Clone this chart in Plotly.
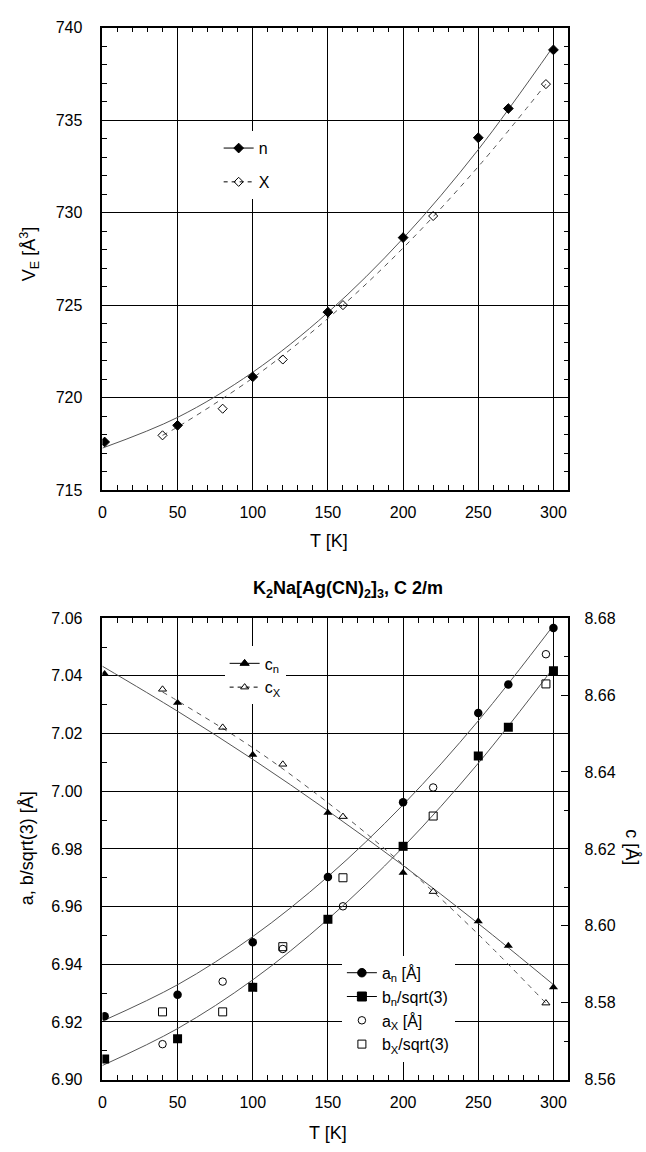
import plotly.graph_objects as go

# ---------------- top panel: cell volume V_E vs T ----------------
T_vol_n = [1.5, 50, 100, 150, 200, 250, 270, 300]
V_n = [717.6, 718.5, 721.12, 724.62, 728.65, 734.05, 735.63, 738.8]
T_vol_x = [40, 80, 120, 160, 220, 295]
V_x = [717.96, 719.4, 722.06, 725.0, 729.82, 736.95]

# smooth fit curves through the volume data
T_vfit_n = [0, 50, 100, 150, 200, 250, 300]
V_fit_n = [717.27, 718.93, 721.37, 724.6, 728.61, 733.41, 739.0]
T_vfit_x = [40, 50, 100, 150, 200, 250, 295]
V_fit_x = [717.96, 718.41, 721.06, 724.28, 728.09, 732.49, 736.95]

# ---------------- bottom panel: lattice parameters ----------------
T_n = [1.5, 50, 100, 150, 200, 250, 270, 300]
a_n = [6.922, 6.9294, 6.9476, 6.9703, 6.9962, 7.0271, 7.037, 7.0566]
b_n = [6.9072, 6.9142, 6.932, 6.9556, 6.9809, 7.0122, 7.0222, 7.0418]
c_n = [8.6655, 8.658, 8.6445, 8.6294, 8.6138, 8.6012, 8.5948, 8.584]

T_x = [40, 80, 120, 160, 220, 295]
a_x = [6.9123, 6.934, 6.9453, 6.9601, 7.0013, 7.0475]
b_x = [6.9235, 6.9235, 6.9461, 6.970, 6.9914, 7.0372]
c_x = [8.6615, 8.6516, 8.642, 8.6284, 8.6089, 8.5799]

T_fit_n = [0, 50, 100, 150, 200, 250, 300]
a_fit_n = [6.9203, 6.9329, 6.9496, 6.9704, 6.9953, 7.0244, 7.0575]
b_fit_n = [6.9049, 6.9177, 6.9346, 6.9556, 6.9806, 7.0097, 7.0428]
c_fit_n = [8.6675, 8.6558, 8.6433, 8.6299, 8.6157, 8.6006, 8.5847]
T_fit_x = [40, 50, 100, 150, 200, 250, 295]
c_fit_x = [8.6608, 8.6585, 8.6463, 8.632, 8.6159, 8.5978, 8.5799]

x_ticks = [0, 50, 100, 150, 200, 250, 300]

W, H = 646, 1152
FONT = "Liberation Sans, Arial, Helvetica, sans-serif"
FIT = "#555555"


def px(x):
    return x / W


def py(y):
    return 1 - y / H


fig = go.Figure()


def legend_entry(name, legend, group, axes, symbol, size, dash=None, with_line=True):
    line = dict(color="black", width=1)
    if dash:
        line["dash"] = dash
    marker = dict(symbol=symbol, size=size, color="black", line=dict(color="black", width=1))
    return go.Scatter(x=[None], y=[None], mode="lines+markers" if with_line else "markers", name=name,
                      legend=legend, legendgroup=group, line=line, marker=marker,
                      xaxis=axes[0], yaxis=axes[1], hoverinfo="skip")


# ---- top panel traces ----
fig.add_trace(go.Scatter(x=T_vfit_n, y=V_fit_n, mode="lines", line=dict(color=FIT, width=1, shape="spline"),
                         xaxis="x", yaxis="y", showlegend=False, hoverinfo="skip"))
fig.add_trace(go.Scatter(x=T_vfit_x, y=V_fit_x, mode="lines",
                         line=dict(color=FIT, width=1, dash="5px,5px", shape="spline"),
                         xaxis="x", yaxis="y", showlegend=False, hoverinfo="skip"))
fig.add_trace(go.Scatter(x=T_vol_n, y=V_n, mode="markers", xaxis="x", yaxis="y", showlegend=False,
                         marker=dict(symbol="diamond", size=7.5, color="black", line=dict(color="black", width=1))))
fig.add_trace(go.Scatter(x=T_vol_x, y=V_x, mode="markers", xaxis="x", yaxis="y", showlegend=False,
                         marker=dict(symbol="diamond-open", size=7, color="black", line=dict(width=1))))
fig.add_trace(legend_entry("n", "legend", "g1", ("x", "y"), "diamond", 7.5))
fig.add_trace(legend_entry("X", "legend", "g2", ("x", "y"), "diamond-open", 7, dash="4px,4px"))

# ---- bottom panel traces ----
fig.add_trace(go.Scatter(x=T_fit_n, y=a_fit_n, mode="lines", line=dict(color=FIT, width=1, shape="spline"),
                         xaxis="x2", yaxis="y2", showlegend=False, hoverinfo="skip"))
fig.add_trace(go.Scatter(x=T_fit_n, y=b_fit_n, mode="lines", line=dict(color=FIT, width=1, shape="spline"),
                         xaxis="x2", yaxis="y2", showlegend=False, hoverinfo="skip"))
fig.add_trace(go.Scatter(x=T_fit_n, y=c_fit_n, mode="lines", line=dict(color=FIT, width=1, shape="spline"),
                         xaxis="x2", yaxis="y3", showlegend=False, hoverinfo="skip"))
fig.add_trace(go.Scatter(x=T_fit_x, y=c_fit_x, mode="lines",
                         line=dict(color=FIT, width=1, dash="5px,5px", shape="spline"),
                         xaxis="x2", yaxis="y3", showlegend=False, hoverinfo="skip"))

fig.add_trace(go.Scatter(x=T_n, y=a_n, mode="markers", xaxis="x2", yaxis="y2", showlegend=False,
                         marker=dict(symbol="circle", size=8.5, color="black")))
fig.add_trace(go.Scatter(x=T_n, y=b_n, mode="markers", xaxis="x2", yaxis="y2", showlegend=False,
                         marker=dict(symbol="square", size=9, color="black")))
fig.add_trace(go.Scatter(x=T_x, y=a_x, mode="markers", xaxis="x2", yaxis="y2", showlegend=False,
                         marker=dict(symbol="circle-open", size=7.5, color="black", line=dict(width=1))))
fig.add_trace(go.Scatter(x=T_x, y=b_x, mode="markers", xaxis="x2", yaxis="y2", showlegend=False,
                         marker=dict(symbol="square-open", size=8, color="black", line=dict(width=1))))
fig.add_trace(go.Scatter(x=T_n, y=c_n, mode="markers", xaxis="x2", yaxis="y3", showlegend=False,
                         marker=dict(symbol="triangle-up", size=8, color="black")))
fig.add_trace(go.Scatter(x=T_x, y=c_x, mode="markers", xaxis="x2", yaxis="y3", showlegend=False,
                         marker=dict(symbol="triangle-up-open", size=7, color="black", line=dict(width=1))))

# lattice-parameter legend
fig.add_trace(legend_entry("a<sub>n</sub> [Å]", "legend3", "a1", ("x2", "y2"), "circle", 8.5))
fig.add_trace(legend_entry("b<sub>n</sub>/sqrt(3)", "legend3", "a2", ("x2", "y2"), "square", 9))
fig.add_trace(legend_entry("a<sub>X</sub> [Å]", "legend3", "a3", ("x2", "y2"), "circle-open", 7.5,
                           with_line=False))
fig.add_trace(legend_entry("b<sub>X</sub>/sqrt(3)", "legend3", "a4", ("x2", "y2"), "square-open", 8,
                           with_line=False))
# c legend
fig.add_trace(legend_entry("c<sub>n</sub>", "legend2", "c1", ("x2", "y3"), "triangle-up", 8))
fig.add_trace(legend_entry("c<sub>X</sub>", "legend2", "c2", ("x2", "y3"), "triangle-up-open", 7,
                           dash="4px,4px"))

tickfont = dict(family=FONT, size=16, color="black")


def xax(anchor):
    return dict(domain=[px(99), px(568)], range=[0, 310], anchor=anchor,
                tickvals=x_ticks, showline=True, linecolor="black", linewidth=1.5, mirror="ticks",
                ticks="inside", ticklen=8, tickcolor="black", showgrid=True, gridcolor="black", gridwidth=1,
                zeroline=False, tickfont=tickfont, ticklabelstandoff=7,
                minor=dict(ticks="inside", ticklen=5, dtick=10, tickcolor="black", showgrid=False))


legend_common = dict(bgcolor="white", borderwidth=0, font=dict(family=FONT, size=16, color="black"),
                     xanchor="left", yanchor="top", traceorder="grouped")

fig.update_layout(
    width=W, height=H, margin=dict(l=0, r=0, t=0, b=0),
    paper_bgcolor="white", plot_bgcolor="white",
    font=dict(family=FONT, size=16, color="black"),
    xaxis=xax("y"),
    yaxis=dict(domain=[py(489.3), py(20)], range=[715, 740], dtick=5, anchor="x",
               showline=True, linecolor="black", linewidth=1.5, mirror="ticks",
               ticks="inside", ticklen=8, tickcolor="black", showgrid=True, gridcolor="black", gridwidth=1,
               zeroline=False, tickfont=tickfont, ticklabelstandoff=15,
               minor=dict(ticks="inside", ticklen=5, dtick=1, tickcolor="black", showgrid=False)),
    xaxis2=xax("y2"),
    yaxis2=dict(domain=[py(1087.7), py(619.3)], range=[6.90, 7.06], dtick=0.02, tickformat=".2f", anchor="x2",
                showline=True, linecolor="black", linewidth=1.5, mirror=False,
                ticks="inside", ticklen=8, tickcolor="black", showgrid=True, gridcolor="black", gridwidth=1,
                zeroline=False, tickfont=tickfont, ticklabelstandoff=15,
                minor=dict(ticks="inside", ticklen=5, dtick=0.01, tickcolor="black", showgrid=False)),
    yaxis3=dict(range=[8.56, 8.68], dtick=0.02, tickformat=".2f", overlaying="y2", side="right", anchor="x2",
                showline=True, linecolor="black", linewidth=1.5,
                ticks="inside", ticklen=8, tickcolor="black", showgrid=False,
                zeroline=False, tickfont=tickfont, ticklabelstandoff=11,
                minor=dict(ticks="inside", ticklen=5, dtick=0.01, tickcolor="black", showgrid=False)),
    legend=dict(x=px(216), y=py(125), tracegroupgap=10, **legend_common),
    legend2=dict(x=px(222), y=py(648), tracegroupgap=0, **legend_common),
    legend3=dict(x=px(340), y=py(962), tracegroupgap=0, **legend_common),
    showlegend=True,
)

title_font = dict(family=FONT, size=18, color="black")
ann = dict(xref="paper", yref="paper", showarrow=False, xanchor="center", yanchor="middle", font=title_font)
annotations = [
    dict(text="T [K]", x=px(327), y=py(540.5), **ann),
    dict(text="T [K]", x=px(326), y=py(1141.5), **ann),
    dict(text="V<sub>E</sub> [Å<sup>3</sup>]", x=px(25), y=py(250), textangle=-90, **ann),
    dict(text="a, b/sqrt(3) [Å]", x=px(24), y=py(853), textangle=-90, **ann),
    dict(text="c [Å]", x=px(631), y=py(852), textangle=90, **ann),
    dict(text="<b>K<sub>2</sub>Na[Ag(CN)<sub>2</sub>]<sub>3</sub>, C 2/m</b>", x=px(346), y=py(590), **ann),
]
fig.update_layout(annotations=annotations)

fig.write_html("out.html")
